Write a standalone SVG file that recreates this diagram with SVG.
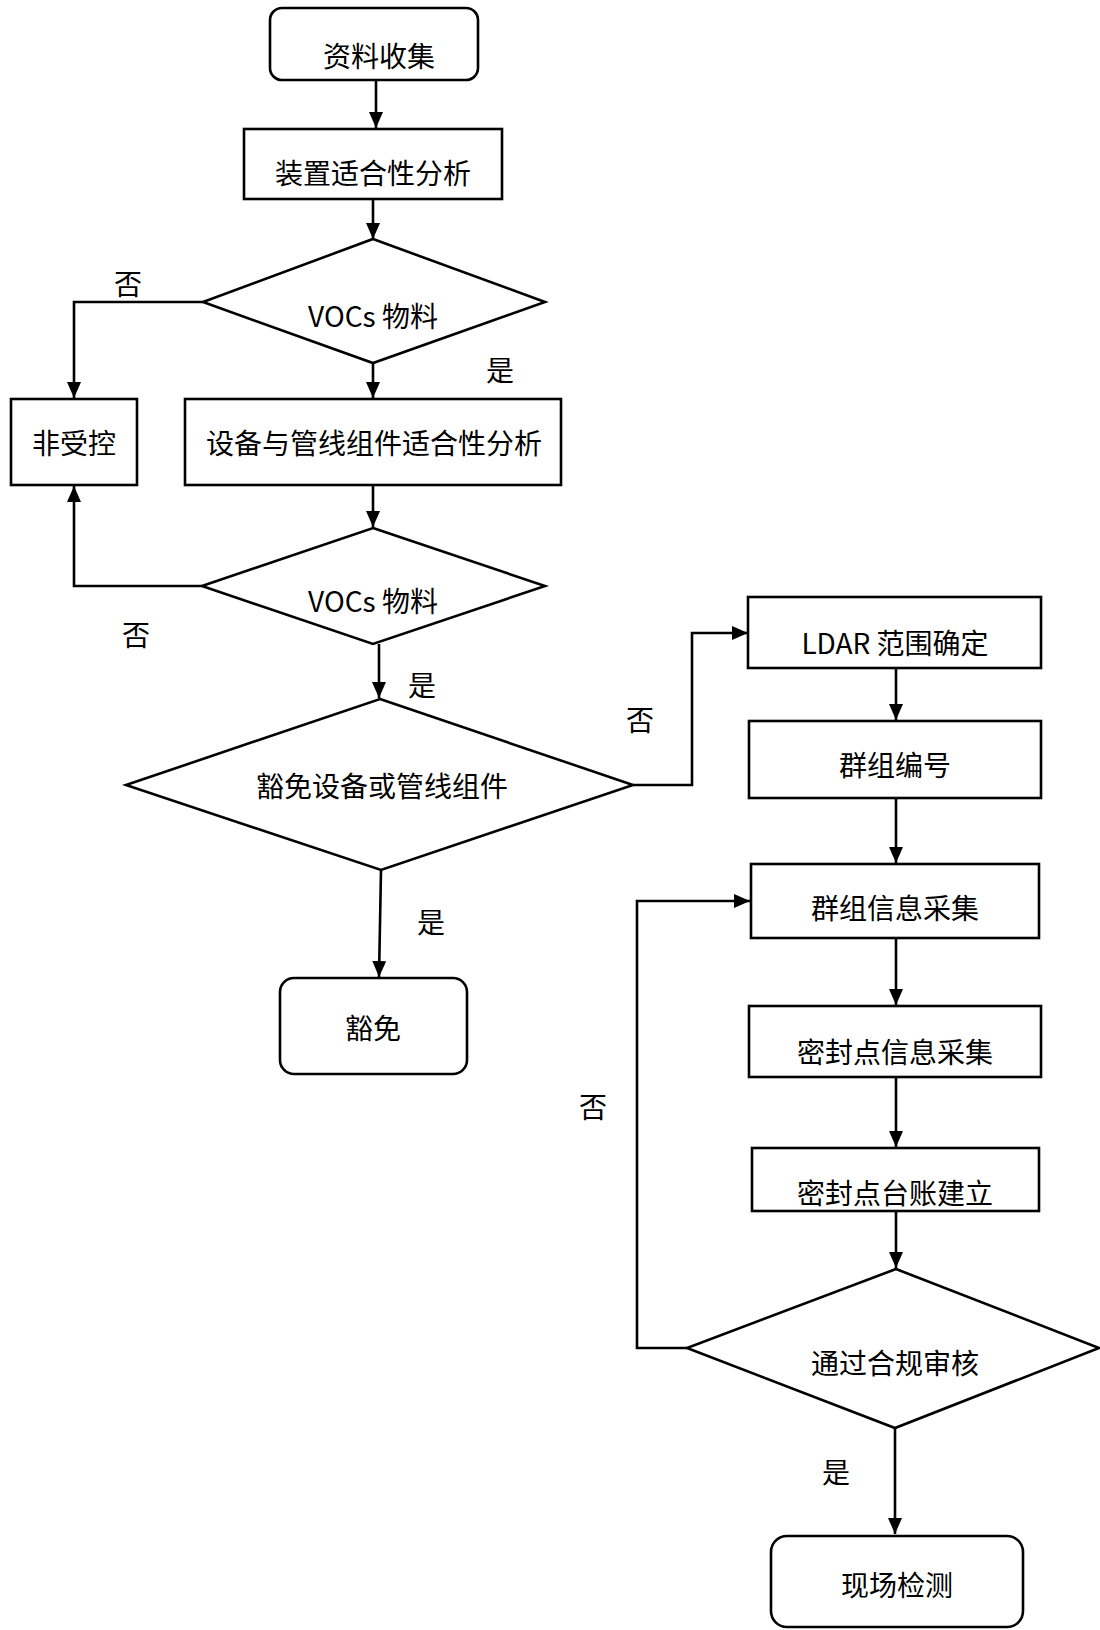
<svg xmlns="http://www.w3.org/2000/svg" width="1100" height="1630" viewBox="0 0 1100 1630">
<style>
.n{fill:#fff;stroke:#000;stroke-width:2.6}
.c{fill:none;stroke:#000;stroke-width:2.6}
text{font-family:"Noto Sans CJK SC","Noto Sans",sans-serif;font-size:28px;fill:#000;text-anchor:middle}
</style>
<defs>
<marker id="ah" viewBox="0 0 16 14" refX="16" refY="7" markerWidth="16" markerHeight="14" markerUnits="userSpaceOnUse" orient="auto">
<path d="M0,0 L16,7 L0,14 Z" fill="#000"/>
</marker>
</defs>
<rect width="1100" height="1630" fill="#fff"/>
<g id="connectors">
<path class="c" d="M376,80 V128" marker-end="url(#ah)"/>
<path class="c" d="M373,199 V239" marker-end="url(#ah)"/>
<path class="c" d="M203,302 H74 V398" marker-end="url(#ah)"/>
<path class="c" d="M373,363 V398" marker-end="url(#ah)"/>
<path class="c" d="M373,485 V527" marker-end="url(#ah)"/>
<path class="c" d="M202,586 H74 V486" marker-end="url(#ah)"/>
<path class="c" d="M379,644 V698" marker-end="url(#ah)"/>
<path class="c" d="M633,785 H692 V633 H748" marker-end="url(#ah)"/>
<path class="c" d="M381,870 L379,977" marker-end="url(#ah)"/>
<path class="c" d="M896,668 V720" marker-end="url(#ah)"/>
<path class="c" d="M896,798 V863" marker-end="url(#ah)"/>
<path class="c" d="M896,938 V1005" marker-end="url(#ah)"/>
<path class="c" d="M896,1077 V1147" marker-end="url(#ah)"/>
<path class="c" d="M896,1211 V1268" marker-end="url(#ah)"/>
<path class="c" d="M687,1348 H637 V901 H750" marker-end="url(#ah)"/>
<path class="c" d="M895,1428 V1534" marker-end="url(#ah)"/>
</g>
<g id="labels">
<text x="128" y="294.5">否</text>
<text x="500" y="380.5">是</text>
<text x="136" y="645.5">否</text>
<text x="422" y="695.5">是</text>
<text x="640" y="730.5">否</text>
<text x="431" y="932.5">是</text>
<text x="593" y="1117.5">否</text>
<text x="836" y="1482.5">是</text>
</g>
<g id="start"><rect class="n" x="270" y="8" width="208" height="72" rx="12"/><text x="379" y="66.5">资料收集</text></g>
<g id="device-analysis"><rect class="n" x="244" y="129" width="258" height="70"/><text x="373" y="183.5">装置适合性分析</text></g>
<g id="vocs1"><polygon class="n" points="373,239 545,302 373,363 203,302"/><text x="373" y="326.5">VOCs 物料</text></g>
<g id="uncontrolled"><rect class="n" x="11" y="399" width="126" height="86"/><text x="74" y="453.5">非受控</text></g>
<g id="component-analysis"><rect class="n" x="185" y="399" width="376" height="86"/><text x="374" y="453.5">设备与管线组件适合性分析</text></g>
<g id="vocs2"><polygon class="n" points="373,528 545,586 373,644 202,586"/><text x="373" y="611.5">VOCs 物料</text></g>
<g id="exempt-check"><polygon class="n" points="380,699 633,785 381,870 126,785"/><text x="382" y="796.5">豁免设备或管线组件</text></g>
<g id="exempt"><rect class="n" x="280" y="978" width="187" height="96" rx="14"/><text x="373" y="1038.5">豁免</text></g>
<g id="ldar"><rect class="n" x="748" y="597" width="293" height="71"/><text x="895" y="653.5">LDAR 范围确定</text></g>
<g id="group-number"><rect class="n" x="749" y="721" width="292" height="77"/><text x="895" y="775.5">群组编号</text></g>
<g id="group-info"><rect class="n" x="751" y="864" width="288" height="74"/><text x="895" y="918.5">群组信息采集</text></g>
<g id="seal-info"><rect class="n" x="749" y="1006" width="292" height="71"/><text x="895" y="1062.5">密封点信息采集</text></g>
<g id="seal-ledger"><rect class="n" x="752" y="1148" width="287" height="63"/><text x="895" y="1203.5">密封点台账建立</text></g>
<g id="review"><polygon class="n" points="896,1269 1099,1348 895,1428 687,1348"/><text x="895" y="1373.5">通过合规审核</text></g>
<g id="field-test"><rect class="n" x="771" y="1536" width="252" height="91" rx="16"/><text x="897" y="1595.5">现场检测</text></g>
</svg>
